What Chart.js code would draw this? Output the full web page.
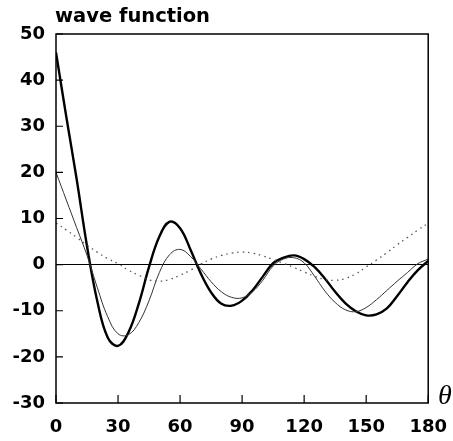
<!DOCTYPE html>
<html lang="en">
<head>
    <meta charset="UTF-8">
    <title>wave function</title>
    <script src="https://cdn.jsdelivr.net/npm/chart.js"></script>
    <style>
        body { margin: 0; background: #fff; }
    </style>
</head>
<body>
<canvas id="myChart" width="453" height="441"></canvas>
<script>
    // angle in degrees
    const theta = [0, 5, 10, 15, 20, 25, 30, 35, 40, 45, 50, 55, 60, 65, 70, 75, 80, 85, 90,
        95, 100, 105, 110, 115, 120, 125, 130, 135, 140, 145, 150, 155, 160, 165, 170, 175, 180];

    // thick solid curve
    const thick = [46, 32, 18.5, 4, -8, -15.8, -17.6, -14.7, -8.5, -0.5, 6.1, 9.3, 7.9, 3.3, -1.9, -6.0, -8.5, -8.9, -7.8,
        -5.6, -2.6, 0.3, 1.5, 2.0, 1.2, -0.5, -3.0, -5.9, -8.4, -10.1, -11.0, -10.8, -9.5, -6.8, -3.8, -1.2, 0.8];

    // thin solid curve
    const thin = [20, 14, 8, 2, -5.0, -11.3, -15.0, -15.2, -12.6, -7.8, -1.7, 2.2, 3.3, 1.8, -0.9, -3.7, -5.9, -7.1, -7.2,
        -5.9, -3.4, -0.3, 1.2, 1.5, 0.4, -2.5, -5.7, -8.2, -9.8, -10.2, -9.3, -7.6, -5.6, -3.6, -1.7, 0.2, 1.2];

    // dotted curve
    const dotted = [9.0, 7.5, 5.9, 4.2, 2.7, 1.3, 0.2, -1.2, -2.3, -3.3, -3.6, -3.2, -2.3, -1.2, 0.1, 1.2, 2.0, 2.5, 2.7,
        2.5, 1.9, 1.1, 0.3, -0.6, -1.6, -2.5, -3.2, -3.4, -3.0, -2.0, -0.5, 1.0, 2.6, 4.3, 5.9, 7.5, 9.0];

    const xTicks = [0, 30, 60, 90, 120, 150, 180];
    const yTicks = [-30, -20, -10, 0, 10, 20, 30, 40, 50];

    function pts(arr) {
        return theta.map((t, i) => ({x: t, y: arr[i]}));
    }

    const labelFont = {family: '"DejaVu Sans", sans-serif', size: 18, weight: 'bold'};

    // frame, inward ticks, title and theta label
    const decor = {
        id: 'decor',
        afterDraw(chart) {
            const ctx = chart.ctx;
            const a = chart.chartArea;
            const xs = chart.scales.x;
            const ys = chart.scales.y;
            ctx.save();
            ctx.strokeStyle = '#000';
            ctx.lineWidth = 1.5;
            ctx.strokeRect(a.left, a.top, a.right - a.left, a.bottom - a.top);

            ctx.lineWidth = 1.2;
            ctx.beginPath();
            xTicks.forEach(v => {
                const px = xs.getPixelForValue(v);
                ctx.moveTo(px, a.bottom);
                ctx.lineTo(px, a.bottom - 8);
            });
            yTicks.forEach(v => {
                const py = ys.getPixelForValue(v);
                ctx.moveTo(a.left, py);
                ctx.lineTo(a.left + 7, py);
            });
            ctx.stroke();

            ctx.fillStyle = '#000';
            ctx.font = 'bold 19.5px "DejaVu Sans", sans-serif';
            ctx.textAlign = 'left';
            ctx.textBaseline = 'alphabetic';
            ctx.fillText('wave function', 55, 22);

            ctx.font = 'italic 28px "Liberation Serif", serif';
            ctx.textAlign = 'center';
            ctx.textBaseline = 'middle';
            ctx.fillText('θ', 445, 397);
            ctx.restore();
        }
    };

    new Chart(document.getElementById('myChart'), {
        type: 'line',
        data: {
            datasets: [
                {
                    label: 'dotted',
                    data: pts(dotted),
                    borderColor: '#555',
                    borderWidth: 1.3,
                    borderDash: [1.5, 4],
                    pointRadius: 0,
                    tension: 0.4
                },
                {
                    label: 'thin',
                    data: pts(thin),
                    borderColor: '#333',
                    borderWidth: 1,
                    pointRadius: 0,
                    tension: 0.4
                },
                {
                    label: 'thick',
                    data: pts(thick),
                    borderColor: '#000',
                    borderWidth: 2.4,
                    pointRadius: 0,
                    tension: 0.4
                }
            ]
        },
        options: {
            responsive: false,
            animation: false,
            layout: {padding: {top: 34, right: 20, left: 0, bottom: 0}},
            plugins: {
                legend: {display: false},
                tooltip: {enabled: false}
            },
            scales: {
                x: {
                    type: 'linear',
                    min: 0,
                    max: 180,
                    afterBuildTicks: s => { s.ticks = xTicks.map(v => ({value: v})); },
                    afterFit: s => { s.height = 38; },
                    grid: {display: false},
                    border: {display: false},
                    ticks: {color: '#000', font: labelFont, padding: 6, maxRotation: 0}
                },
                y: {
                    min: -30,
                    max: 50,
                    afterBuildTicks: s => { s.ticks = yTicks.map(v => ({value: v})); },
                    afterFit: s => { s.width = 56; },
                    grid: {
                        drawTicks: false,
                        color: c => (c.tick && c.tick.value === 0) ? '#000' : 'rgba(0,0,0,0)',
                        lineWidth: 1
                    },
                    border: {display: false},
                    ticks: {color: '#000', font: labelFont, padding: 11}
                }
            }
        },
        plugins: [decor]
    });
</script>
</body>
</html>
